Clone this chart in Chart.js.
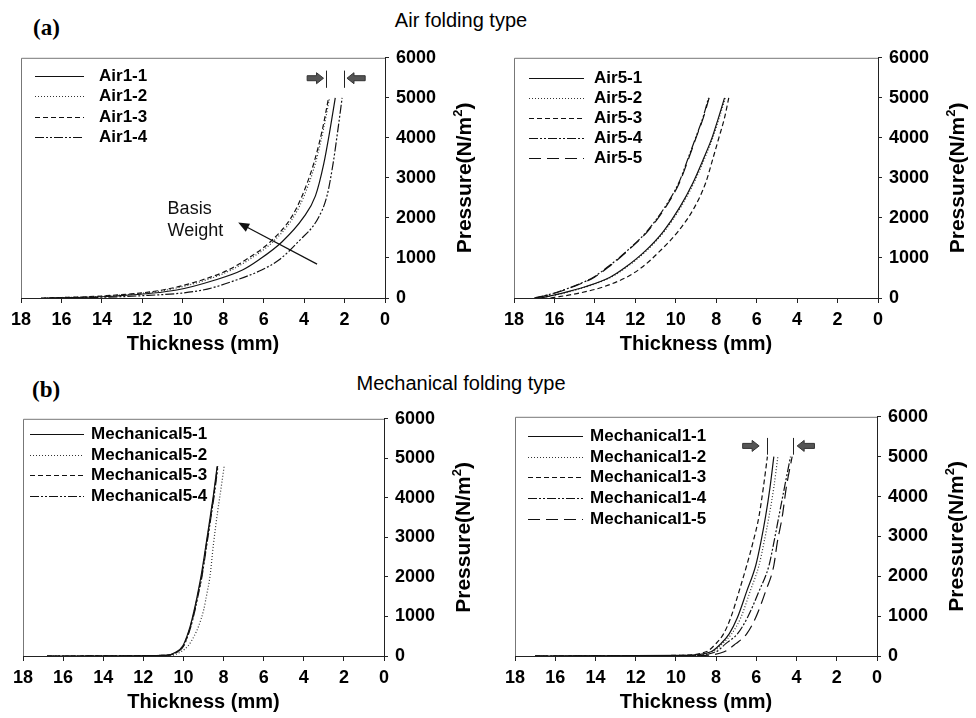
<!DOCTYPE html>
<html>
<head>
<meta charset="utf-8">
<title>Pressure vs thickness</title>
<script src="https://cdn.jsdelivr.net/npm/chart.js@4.4.0/dist/chart.umd.min.js"></script>
<style>
  body { margin: 0; background: #fff; width: 976px; height: 718px; position: relative; overflow: hidden;
         font-family: "Liberation Sans", Arial, sans-serif; color: #000; }
  canvas { position: absolute; }
  .tag { position: absolute; font-family: "Liberation Serif", "Times New Roman", serif; font-weight: bold;
         font-size: 23px; line-height: 23px; }
  .head { position: absolute; width: 400px; text-align: center; font-size: 20px; line-height: 20px; }
</style>
</head>
<body>
<div class="tag" style="left:33px;top:16px">(a)</div>
<div class="head" style="left:261px;top:10px">Air folding type</div>
<div class="tag" style="left:32px;top:378px">(b)</div>
<div class="head" style="left:261px;top:373px">Mechanical folding type</div>

<canvas id="chartAir1"></canvas>
<canvas id="chartAir5"></canvas>
<canvas id="chartMech5"></canvas>
<canvas id="chartMech1"></canvas>

<script>
// Данные: давление (Н/м2) и соответствующая толщина (мм)
const pressureAir1 = [0, 50, 200, 450, 700, 950, 1400, 2000, 2550, 3350, 4200, 5000];
const air1_1 = [16.8, 13.3, 10.3, 8.4, 7.05, 6.25, 5.1, 4.05, 3.44, 3.03, 2.72, 2.46];
const air1_2 = [17.0, 13.8, 10.8, 8.85, 7.6, 6.75, 5.55, 4.55, 4.0, 3.45, 3.05, 2.74];
const air1_3 = [17.0, 14.0, 11.0, 9.05, 7.75, 6.9, 5.68, 4.65, 4.1, 3.53, 3.1, 2.79];
const air1_4 = [16.5, 12.3, 9.0, 7.35, 6.1, 5.25, 4.3, 3.3, 2.87, 2.57, 2.33, 2.12];

const pressureAir5 = [0, 110, 280, 520, 760, 1170, 1660, 2270, 2880, 3490, 4000, 4500, 5000];
const air5_1 = [16.7, 15.7, 14.48, 13.25, 12.51, 11.52, 10.62, 9.8, 9.15, 8.62, 8.21, 7.89, 7.59];
const air5_2 = [16.7, 15.65, 14.43, 13.2, 12.46, 11.47, 10.57, 9.75, 9.1, 8.57, 8.17, 7.85, 7.55];
const air5_3 = [16.2, 14.89, 13.57, 12.43, 11.69, 10.79, 9.89, 9.07, 8.52, 8.16, 7.87, 7.59, 7.38];
const air5_4 = [17.0, 16.11, 15.13, 14.07, 13.41, 12.43, 11.44, 10.54, 9.85, 9.39, 9.02, 8.66, 8.38];
const air5_5 = [16.9, 16.05, 15.08, 14.02, 13.36, 12.4, 11.4, 10.5, 9.82, 9.36, 9.0, 8.64, 8.35];

const pressureMech5 = [0, 16, 100, 260, 510, 760, 1170, 1580, 2000, 2800, 3640, 4050, 4800];
const mech5_1 = [16.8, 10.9, 10.36, 10.03, 9.82, 9.66, 9.46, 9.29, 9.13, 8.88, 8.63, 8.51, 8.32];
const mech5_2 = [16.8, 10.61, 10.15, 9.76, 9.46, 9.24, 8.99, 8.83, 8.68, 8.51, 8.3, 8.18, 7.97];
const mech5_3 = [16.8, 10.87, 10.33, 10.0, 9.8, 9.64, 9.44, 9.27, 9.1, 8.86, 8.61, 8.49, 8.3];
const mech5_4 = [16.8, 10.84, 10.3, 9.98, 9.78, 9.62, 9.42, 9.25, 9.08, 8.84, 8.59, 8.47, 8.28];

const pressureMech1 = [0, 15, 105, 310, 555, 965, 1620, 2270, 2845, 3500, 4230, 5000];
const mech1_1 = [17.0, 9.6, 8.26, 7.76, 7.35, 6.94, 6.48, 6.03, 5.78, 5.54, 5.32, 5.13];
const mech1_2 = [17.0, 9.5, 8.17, 7.68, 7.23, 6.77, 6.31, 5.87, 5.62, 5.37, 5.13, 4.93];
const mech1_3 = [17.0, 9.9, 8.5, 8.01, 7.63, 7.27, 6.86, 6.48, 6.17, 5.87, 5.65, 5.45];
const mech1_4 = [17.0, 9.3, 8.01, 7.52, 6.94, 6.44, 5.87, 5.37, 5.13, 4.88, 4.6, 4.3];
const mech1_5 = [17.0, 8.8, 7.6, 7.02, 6.48, 6.03, 5.54, 5.13, 4.96, 4.71, 4.51, 4.22];

// Подписи и пометки
const basisLabel = ["Basis", "Weight"];
const basisText = { x: 10.75, y: [2220, 1680] };
const basisArrow = { from: [3.36, 846], to: [7.26, 1885] };
const gapAir1 = { lines: [2.92, 2.05], low: 5250, high: 5680, left: [3.85, 3.04], right: [0.98, 1.88], y: 5490 };
const gapMech1 = { lines: [5.45, 4.19], low: 5050, high: 5470, left: [6.68, 5.86], right: [3.11, 3.97], y: 5270 };

const FONT = '"Liberation Sans", Arial, sans-serif';
Chart.defaults.font.family = FONT;
Chart.defaults.color = "#000";

// Стили линий
const dash = {
  solid: [],
  dot: [1, 2],
  shortDash: [5, 3],
  dashDot: [9, 2, 2, 2, 2, 2],
  longDash: [12, 6],
};

function series(label, pressure, thickness, style) {
  return {
    label,
    data: thickness.map((t, i) => ({ x: t, y: pressure[i] })),
    borderColor: style === "dot" ? "#333" : "#111",
    borderWidth: 1.2,
    borderDash: dash[style],
    showLine: true,
    pointRadius: 0,
    cubicInterpolationMode: "monotone",
  };
}

// Рамка сверху и слева
const framePlugin = {
  id: "frame",
  afterDraw(chart) {
    const { ctx, chartArea: a } = chart;
    ctx.save();
    ctx.strokeStyle = "#777";
    ctx.lineWidth = 1;
    ctx.beginPath();
    ctx.moveTo(a.left + 0.5, a.bottom);
    ctx.lineTo(a.left + 0.5, a.top + 0.5);
    ctx.lineTo(a.right, a.top + 0.5);
    ctx.stroke();
    ctx.restore();
  },
};

// Легенда внутри области графика
const insideLegend = {
  id: "insideLegend",
  afterDraw(chart, args, opts) {
    const { ctx, chartArea: a } = chart;
    ctx.save();
    ctx.font = "bold 17px " + FONT;
    ctx.textBaseline = "middle";
    ctx.fillStyle = "#000";
    chart.data.datasets.forEach((ds, i) => {
      const y = Math.round(a.top + opts.top + i * opts.row) + 0.5;
      ctx.strokeStyle = ds.borderColor;
      ctx.lineWidth = ds.borderWidth;
      ctx.setLineDash(ds.borderDash || []);
      ctx.beginPath();
      ctx.moveTo(a.left + opts.lineStart, y);
      ctx.lineTo(a.left + opts.lineEnd, y);
      ctx.stroke();
      ctx.setLineDash([]);
      ctx.fillText(ds.label, a.left + opts.textStart, y);
    });
    ctx.restore();
  },
};

// Повернутая подпись оси давления
const pressureTitle = {
  id: "pressureTitle",
  afterDraw(chart) {
    const { ctx, chartArea: a } = chart;
    const big = "bold 21px " + FONT;
    const small = "bold 13px " + FONT;
    ctx.save();
    ctx.translate(a.right + 79, (a.top + a.bottom) / 2);
    ctx.rotate(-Math.PI / 2);
    ctx.fillStyle = "#000";
    ctx.textBaseline = "middle";
    ctx.textAlign = "left";
    ctx.font = big;
    const w1 = ctx.measureText("Pressure(N/m").width;
    const w3 = ctx.measureText(")").width;
    ctx.font = small;
    const w2 = ctx.measureText("2").width;
    let x = -(w1 + w2 + w3) / 2;
    ctx.font = big;
    ctx.fillText("Pressure(N/m", x, 1);
    x += w1;
    ctx.font = small;
    ctx.fillText("2", x, -6);
    x += w2;
    ctx.font = big;
    ctx.fillText(")", x, 1);
    ctx.restore();
  },
};

function blockArrow(ctx, x1, x2, y) {
  const head = 7 * Math.sign(x2 - x1);
  ctx.beginPath();
  ctx.moveTo(x1, y - 2.5);
  ctx.lineTo(x2 - head, y - 2.5);
  ctx.lineTo(x2 - head, y - 5.5);
  ctx.lineTo(x2, y);
  ctx.lineTo(x2 - head, y + 5.5);
  ctx.lineTo(x2 - head, y + 2.5);
  ctx.lineTo(x1, y + 2.5);
  ctx.closePath();
  ctx.fill();
  ctx.stroke();
}

// Пометки: стрелки и текст
const notesPlugin = {
  id: "notes",
  afterDraw(chart, args, opts) {
    const { ctx, scales } = chart;
    const px = (v) => scales.x.getPixelForValue(v);
    const py = (v) => scales.y.getPixelForValue(v);
    ctx.save();
    if (opts.gap) {
      const g = opts.gap;
      ctx.strokeStyle = "#222";
      ctx.lineWidth = 1;
      g.lines.forEach((v) => {
        const x = Math.round(px(v)) + 0.5;
        ctx.beginPath();
        ctx.moveTo(x, py(g.high));
        ctx.lineTo(x, py(g.low));
        ctx.stroke();
      });
      ctx.fillStyle = "#555";
      ctx.strokeStyle = "#333";
      blockArrow(ctx, px(g.left[0]), px(g.left[1]), py(g.y));
      blockArrow(ctx, px(g.right[0]), px(g.right[1]), py(g.y));
    }
    if (opts.arrow) {
      const x1 = px(opts.arrow.from[0]), y1 = py(opts.arrow.from[1]);
      const x2 = px(opts.arrow.to[0]), y2 = py(opts.arrow.to[1]);
      const ang = Math.atan2(y2 - y1, x2 - x1);
      ctx.strokeStyle = "#111";
      ctx.fillStyle = "#111";
      ctx.lineWidth = 1.2;
      ctx.beginPath();
      ctx.moveTo(x1, y1);
      ctx.lineTo(x2 - 8 * Math.cos(ang), y2 - 8 * Math.sin(ang));
      ctx.stroke();
      ctx.beginPath();
      ctx.moveTo(x2, y2);
      ctx.lineTo(x2 - 11 * Math.cos(ang) + 4.5 * Math.sin(ang), y2 - 11 * Math.sin(ang) - 4.5 * Math.cos(ang));
      ctx.lineTo(x2 - 11 * Math.cos(ang) - 4.5 * Math.sin(ang), y2 - 11 * Math.sin(ang) + 4.5 * Math.cos(ang));
      ctx.closePath();
      ctx.fill();
    }
    if (opts.text) {
      ctx.font = "18px " + FONT;
      ctx.fillStyle = "#111";
      ctx.textBaseline = "middle";
      ctx.textAlign = "left";
      opts.text.lines.forEach((s, i) => ctx.fillText(s, px(opts.text.x), py(opts.text.y[i])));
    }
    ctx.restore();
  },
};

const PAD_LEFT = 14, PAD_TOP = 12, Y_AXIS_W = 96, X_AXIS_H = 62;

function makePanel(id, box, datasets, legend, notes) {
  const canvas = document.getElementById(id);
  canvas.width = PAD_LEFT + box.w + Y_AXIS_W;
  canvas.height = PAD_TOP + box.h + X_AXIS_H;
  canvas.style.left = box.left - PAD_LEFT + "px";
  canvas.style.top = box.top - PAD_TOP + "px";

  return new Chart(canvas, {
    type: "scatter",
    data: { datasets },
    plugins: [framePlugin, insideLegend, pressureTitle, notesPlugin],
    options: {
      responsive: false,
      animation: false,
      devicePixelRatio: 1,
      layout: { padding: { left: PAD_LEFT, top: PAD_TOP, right: 0, bottom: 0 } },
      scales: {
        x: {
          type: "linear",
          reverse: true,
          min: 0,
          max: 18,
          afterFit: (s) => { s.height = X_AXIS_H; },
          ticks: { stepSize: 2, padding: 6, font: { size: 18, weight: "bold" }, color: "#000",
                   callback: (v) => String(v) },
          grid: { drawOnChartArea: false, drawTicks: true, tickLength: 5, color: "#222" },
          border: { display: true, color: "#222", width: 1 },
          title: { display: true, text: "Thickness (mm)", font: { size: 20, weight: "bold" }, color: "#000",
                   padding: { top: 0, bottom: 4 } },
        },
        y: {
          type: "linear",
          position: "right",
          min: 0,
          max: 6000,
          afterFit: (s) => { s.width = Y_AXIS_W; },
          ticks: { stepSize: 1000, padding: 7, font: { size: 18, weight: "bold" }, color: "#000",
                   callback: (v) => String(v) },
          grid: { drawOnChartArea: false, drawTicks: true, tickLength: 4, color: "#222" },
          border: { display: true, color: "#222", width: 1 },
        },
      },
      plugins: {
        legend: { display: false },
        tooltip: { enabled: false },
        insideLegend: legend,
        notes: notes || {},
      },
    },
  });
}

document.addEventListener("DOMContentLoaded", () => {
  makePanel("chartAir1", { left: 19, top: 52, w: 366, h: 246 }, [
    series("Air1-1", pressureAir1, air1_1, "solid"),
    series("Air1-2", pressureAir1, air1_2, "dot"),
    series("Air1-3", pressureAir1, air1_3, "shortDash"),
    series("Air1-4", pressureAir1, air1_4, "dashDot"),
  ], { top: 18, row: 20.5, lineStart: 14, lineEnd: 63, textStart: 78 },
  { gap: gapAir1, arrow: basisArrow, text: { x: basisText.x, y: basisText.y, lines: basisLabel } });

  makePanel("chartAir5", { left: 512, top: 52, w: 366, h: 246 }, [
    series("Air5-1", pressureAir5, air5_1, "solid"),
    series("Air5-2", pressureAir5, air5_2, "dot"),
    series("Air5-3", pressureAir5, air5_3, "shortDash"),
    series("Air5-4", pressureAir5, air5_4, "dashDot"),
    series("Air5-5", pressureAir5, air5_5, "longDash"),
  ], { top: 20.5, row: 20, lineStart: 15, lineEnd: 70, textStart: 80 });

  makePanel("chartMech5", { left: 21, top: 413, w: 363, h: 243 }, [
    series("Mechanical5-1", pressureMech5, mech5_1, "solid"),
    series("Mechanical5-2", pressureMech5, mech5_2, "dot"),
    series("Mechanical5-3", pressureMech5, mech5_3, "shortDash"),
    series("Mechanical5-4", pressureMech5, mech5_4, "dashDot"),
  ], { top: 15.5, row: 20.5, lineStart: 7, lineEnd: 61, textStart: 68 });

  makePanel("chartMech1", { left: 513, top: 411, w: 364, h: 245 }, [
    series("Mechanical1-1", pressureMech1, mech1_1, "solid"),
    series("Mechanical1-2", pressureMech1, mech1_2, "dot"),
    series("Mechanical1-3", pressureMech1, mech1_3, "shortDash"),
    series("Mechanical1-4", pressureMech1, mech1_4, "dashDot"),
    series("Mechanical1-5", pressureMech1, mech1_5, "longDash"),
  ], { top: 19, row: 20.7, lineStart: 13, lineEnd: 68, textStart: 75 },
  { gap: gapMech1 });
});
</script>
</body>
</html>
